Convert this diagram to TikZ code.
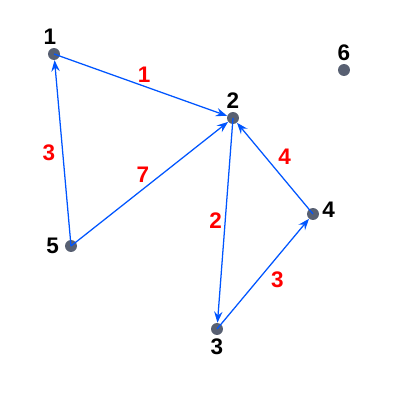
\documentclass[tikz,border=0pt]{standalone}
\usepackage{fontspec}
\setmainfont{Liberation Sans}
\usetikzlibrary{arrows.meta}
\definecolor{edgeblue}{RGB}{0,85,255}
\definecolor{vertgray}{RGB}{88,96,114}
\tikzset{
  vert/.style={circle, fill=vertgray, inner sep=0pt, minimum size=8.5pt,
    label distance=1.5pt},
  wlabel/.style={text=red, font=\fontsize{16}{16}\selectfont\bfseries, inner sep=2pt},
  arc/.style={-{Stealth[length=8pt,width=6pt,inset=2.8pt]}, draw=edgeblue, line width=0.9pt},
  every label/.style={font=\fontsize{16}{16}\selectfont\bfseries, inner sep=2pt}
}
\begin{document}
\begin{tikzpicture}[x=0.025cm, y=0.025cm]
  \useasboundingbox (0,0) rectangle (400,400);

  % sommets
  \node[vert, label={[xshift=-3pt]above:1}] (v1) at (54,346) {};
  \node[vert, label=above:2] (v2) at (233,282) {};
  \node[vert, label=below:3] (v3) at (217,71) {};
  \node[vert, label={[yshift=3pt]right:4}] (v4) at (313,186) {};
  \node[vert, label={[xshift=-2pt]left:5}] (v5) at (71,154) {};
  \node[vert, label=above:6] (v6) at (344,330) {};

  % arcs
  \path (v1.center) edge[arc] node[wlabel, above, pos=0.52] {1} (v2);
  \path (v5.center) edge[arc] node[wlabel, left, xshift=-3pt] {3} (v1);
  \path (v5.center) edge[arc] node[wlabel, above left, pos=0.52, yshift=-3pt] {7} (v2);
  \path (v2.center) edge[arc] node[wlabel, left] {2} (v3);
  \path (v3.center) edge[arc] node[wlabel, below right, pos=0.55] {3} (v4);
  \path (v4.center) edge[arc] node[wlabel, above right] {4} (v2);
\end{tikzpicture}
\end{document}
